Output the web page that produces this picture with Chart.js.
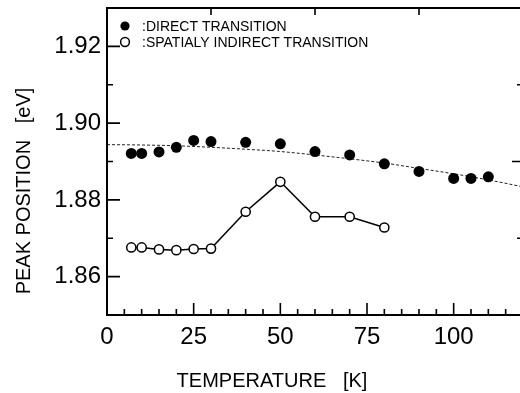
<!DOCTYPE html>
<html>
<head>
<meta charset="utf-8">
<script src="https://cdn.jsdelivr.net/npm/chart.js@4/dist/chart.umd.min.js"></script>
<style>
  html, body { margin: 0; padding: 0; background: #fff; overflow: hidden; }
  #wrap { width: 530px; height: 393px; }
</style>
</head>
<body>
<div id="wrap"><canvas id="peak-chart" width="530" height="393"></canvas></div>
<script>
// temperatures [K]
var directT = [7, 10, 15, 20, 25, 30, 40, 50, 60, 70, 80, 90, 100, 105, 110];
var directE = [1.8921, 1.8921, 1.8925, 1.8937, 1.8955, 1.8952, 1.8950, 1.8946,
               1.8926, 1.8917, 1.8894, 1.8874, 1.8856, 1.8856, 1.8860];

var indirectT = [7, 10, 15, 20, 25, 30, 40, 50, 60, 70, 80];
var indirectE = [1.8676, 1.8676, 1.8671, 1.8669, 1.8672, 1.8673, 1.8769, 1.8847,
                 1.8756, 1.8756, 1.8728];

// dashed curve through the direct transition points
var fitT = [0, 10, 20, 30, 40, 50, 60, 70, 80, 90, 100, 110, 120];
var fitE = [1.8944, 1.8943, 1.8941, 1.8937, 1.8932, 1.8926, 1.8917, 1.8907,
            1.8896, 1.8882, 1.8868, 1.8852, 1.8834];

var xTicks = [0, 25, 50, 75, 100];
var yTicks = [1.86, 1.88, 1.90, 1.92];
var topTicks = [30, 60, 90, 120];
var rightTicks = [1.87, 1.89, 1.91];

var legendLabels = [':DIRECT TRANSITION', ':SPATIALY INDIRECT TRANSITION'];
var xTitle = 'TEMPERATURE   [K]';
var yTitle = 'PEAK POSITION   [eV]';

var FONT = '"Liberation Sans", Arial, Helvetica, sans-serif';

function toPoints(xs, ys) {
    return xs.map(function (x, i) { return {x: x, y: ys[i]}; });
}

/**
 * Frame, inward ticks, axis titles and the in-plot legend.
 */
var decorations = {
    id: 'decorations',
    afterDraw: function (chart) {
        var ctx = chart.ctx;
        var a = chart.chartArea;
        var xs = chart.scales.x;
        var ys = chart.scales.y;
        var i, px, py;

        ctx.save();
        ctx.strokeStyle = '#000';
        ctx.lineWidth = 2;
        ctx.strokeRect(a.left, a.top, a.right - a.left, a.bottom - a.top);

        ctx.lineWidth = 1.6;
        ctx.beginPath();
        // bottom ticks, minor every 5 K
        for (i = 0; i <= 120; i += 5) {
            px = xs.getPixelForValue(i);
            ctx.moveTo(px, a.bottom);
            ctx.lineTo(px, a.bottom - (i % 25 === 0 ? 12 : 6));
        }
        // left ticks, minor every 0.01
        for (i = 186; i <= 192; i += 1) {
            py = ys.getPixelForValue(i / 100);
            ctx.moveTo(a.left, py);
            ctx.lineTo(a.left + (i % 2 === 0 ? 13 : 6), py);
        }
        topTicks.forEach(function (t) {
            px = xs.getPixelForValue(t);
            ctx.moveTo(px, a.top);
            ctx.lineTo(px, a.top + 7);
        });
        rightTicks.forEach(function (v, k) {
            py = ys.getPixelForValue(v);
            ctx.moveTo(a.right, py);
            ctx.lineTo(a.right - (k === 1 ? 11 : 6), py);
        });
        ctx.stroke();

        // axis titles
        ctx.fillStyle = '#000';
        ctx.font = '20px ' + FONT;
        ctx.textAlign = 'center';
        ctx.textBaseline = 'alphabetic';
        ctx.fillText(xTitle, 272, 387);
        ctx.save();
        ctx.translate(30, 191);
        ctx.rotate(-Math.PI / 2);
        ctx.fillText(yTitle, 0, 0);
        ctx.restore();

        // legend
        ctx.font = '14px ' + FONT;
        ctx.textAlign = 'left';
        ctx.beginPath();
        ctx.arc(125, 26, 4.6, 0, Math.PI * 2);
        ctx.fill();
        ctx.beginPath();
        ctx.lineWidth = 1.5;
        ctx.fillStyle = '#fff';
        ctx.arc(125, 42, 4.4, 0, Math.PI * 2);
        ctx.fill();
        ctx.stroke();
        ctx.fillStyle = '#000';
        ctx.fillText(legendLabels[0], 142, 31);
        ctx.fillText(legendLabels[1], 142, 47);
        ctx.restore();
    }
};

var ctx = document.getElementById('peak-chart');
new Chart(ctx, {
    type: 'scatter',
    data: {
        datasets: [
            {
                label: legendLabels[0],
                data: toPoints(directT, directE),
                pointRadius: 5.5,
                pointBackgroundColor: '#000',
                pointBorderColor: '#000',
                pointBorderWidth: 0,
                showLine: false
            },
            {
                label: legendLabels[1],
                data: toPoints(indirectT, indirectE),
                pointRadius: 4.6,
                pointBackgroundColor: '#fff',
                pointBorderColor: '#000',
                pointBorderWidth: 1.5,
                showLine: true,
                borderColor: '#000',
                borderWidth: 1.5
            },
            {
                label: 'fit',
                data: toPoints(fitT, fitE),
                pointRadius: 0,
                showLine: true,
                borderColor: '#222',
                borderWidth: 1,
                borderDash: [3, 2],
                cubicInterpolationMode: 'monotone'
            }
        ]
    },
    options: {
        responsive: false,
        animation: false,
        devicePixelRatio: 1,
        layout: {padding: {top: 8, right: 7, left: 0, bottom: 0}},
        plugins: {
            legend: {display: false},
            tooltip: {enabled: false}
        },
        scales: {
            x: {
                type: 'linear',
                min: 0,
                max: 120,
                grid: {display: false, drawTicks: false},
                border: {display: false},
                afterBuildTicks: function (scale) {
                    scale.ticks = xTicks.map(function (v) { return {value: v}; });
                },
                afterFit: function (scale) {
                    scale.height = 78;
                    scale.paddingLeft = 0;
                    scale.paddingRight = 0;
                },
                ticks: {
                    color: '#000',
                    padding: 8,
                    maxRotation: 0,
                    font: {family: FONT, size: 24}
                }
            },
            y: {
                type: 'linear',
                min: 1.85,
                max: 1.93,
                grid: {display: false, drawTicks: false},
                border: {display: false},
                afterBuildTicks: function (scale) {
                    scale.ticks = yTicks.map(function (v) { return {value: v}; });
                },
                afterFit: function (scale) {
                    scale.width = 107;
                    scale.paddingTop = 0;
                    scale.paddingBottom = 0;
                },
                ticks: {
                    color: '#000',
                    padding: 6,
                    font: {family: FONT, size: 24},
                    callback: function (v) { return v.toFixed(2); }
                }
            }
        }
    },
    plugins: [decorations]
});
</script>
</body>
</html>
